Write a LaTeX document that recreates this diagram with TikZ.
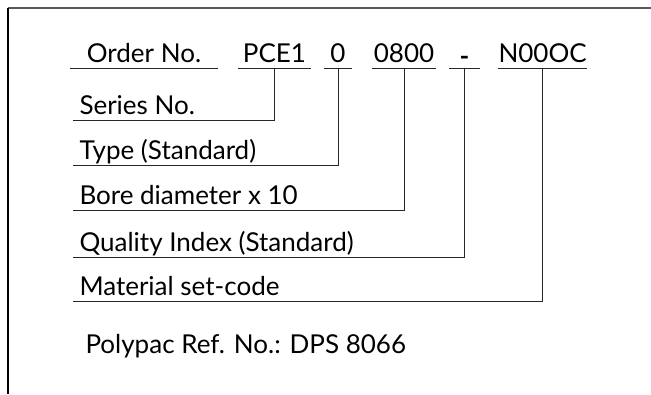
\documentclass[tikz,border=0pt]{standalone}
\usepackage{fontspec}
\setmainfont{Lato}

\begin{document}
\begin{tikzpicture}[x=1pt, y=-1pt, line width=1pt,
    every node/.style={font=\fontsize{26}{30}\selectfont, text depth=0pt, inner ysep=5.5pt, inner xsep=0pt},
    headcode/.style={anchor=south west, minimum width=#1},
    rowlabel/.style={anchor=south west, inner xsep=6pt},
    link/.style={draw=black!85}]
    \useasboundingbox (0,0) rectangle (651,394);

    % frame
    \draw[black!65, line width=1.3pt] (8,8) -- (651,8);
    \draw[black, line width=1.3pt] (8,8) -- (8,394);

    % order code
    \node[headcode=147pt] (order) at (70,68) {Order No.};
    \node[headcode=72pt] (pce) at (238,68) {PCE1};
    \node[headcode=27pt] (typecode) at (324,68) {0};
    \node[headcode=63pt] (borecode) at (372,68) {0800};
    \node[headcode=30pt] (dash) at (449,68) {\raisebox{-3pt}{\bfseries -}};
    \node[headcode=87pt] (matcode) at (498,68) {N00OC};
    \foreach \n in {order, pce, typecode, borecode, dash, matcode}
        \draw[link] (\n.south west) -- (\n.south east);

    % meanings
    \node[rowlabel] (series) at (73,120) {Series No.};
    \node[rowlabel] (type) at (73,165) {Type (Standard)};
    \node[rowlabel] (bore) at (73,210) {Bore diameter x 10};
    \node[rowlabel] (quality) at (73,257) {Quality Index (Standard)};
    \node[rowlabel] (material) at (73,301) {Material set-code};
    \node[rowlabel, anchor=base west] (ref) at (79,353) {Polypac Ref. No.: DPS 8066};

    \draw[link] (pce.south) |- (series.south west)
          (typecode.south) |- (type.south west)
          (borecode.south) |- (bore.south west)
          (dash.south) |- (quality.south west)
          (matcode.south) |- (material.south west);
\end{tikzpicture}
\end{document}
